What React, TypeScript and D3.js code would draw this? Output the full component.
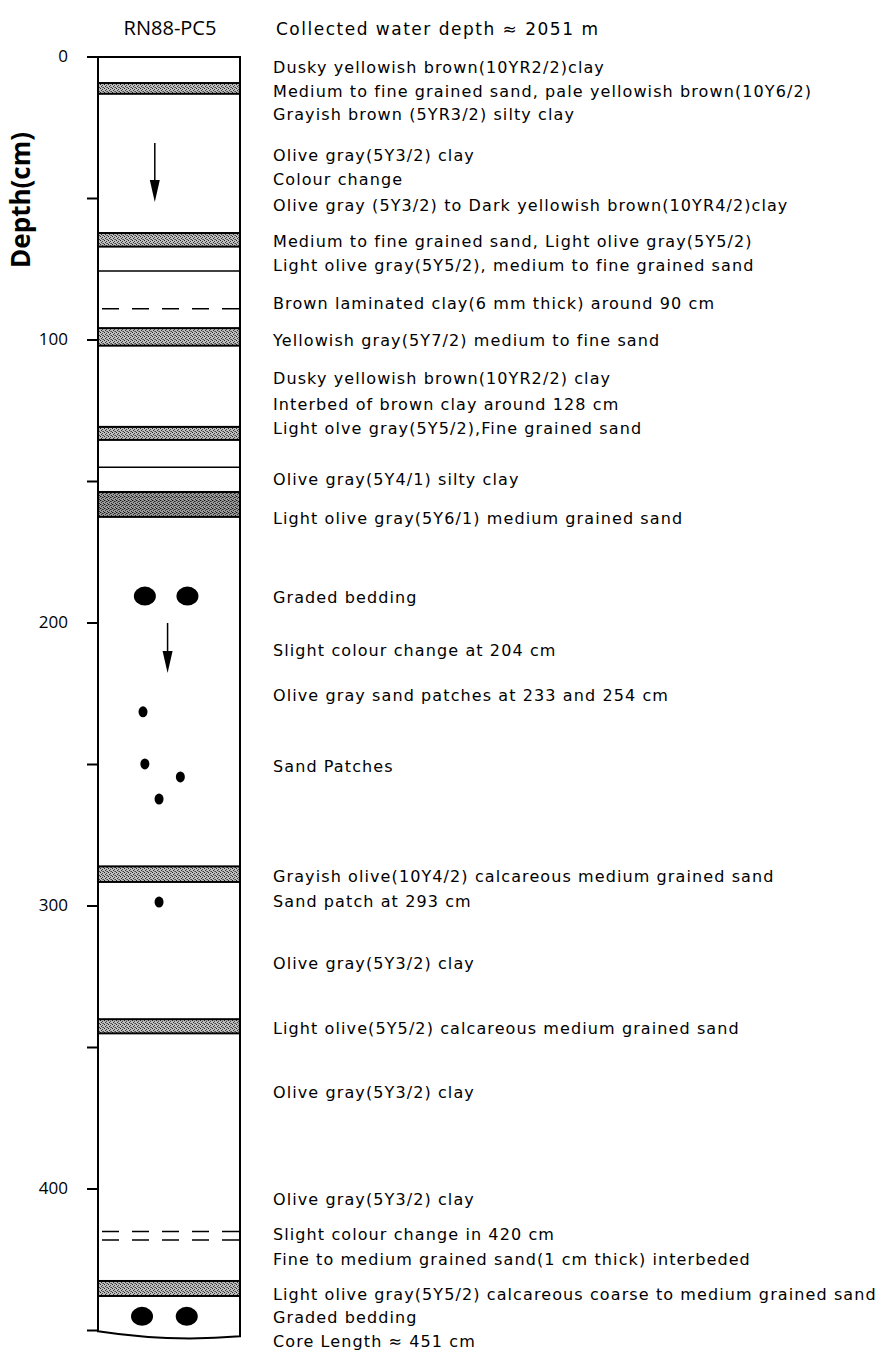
import * as d3 from 'd3';

// depth scale ticks (cm)
const depthTicks = [0, 50, 100, 150, 200, 250, 300, 350, 400, 450];
const tickLabels = ['0', '', '100', '', '200', '', '300', '', '400', ''];
const coreLength = 451;

// sand layers [top, bottom] in cm, dark flag for the coarser one
const sandTop = [9.2, 62.2, 95.8, 130.7, 153.7, 286, 340, 432.5];
const sandBottom = [13, 67, 102, 135.3, 162.5, 291.5, 345, 437.8];
const sandDark = [false, false, false, false, true, false, false, false];

// layer boundaries
const solidLines = [75.6, 145];
const dashedLines = [89, 415, 418];

// arrows: x position across core (0-1), from / to depth
const arrowX = [0.4, 0.49];
const arrowFrom = [30.4, 200];
const arrowTo = [51.2, 217.7];

// graded bedding (large) and sand patches (small)
const bigDotX = [0.33, 0.63, 0.31, 0.625];
const bigDotDepth = [190.5, 190.5, 445, 445];
const smallDotX = [0.317, 0.33, 0.58, 0.43, 0.43];
const smallDotDepth = [231.4, 249.8, 254.4, 262.2, 298.6];

// descriptions and depth (cm) they are written at
const descDepth = [4.2, 12.4, 20.8, 35.3, 43.8, 52.7, 65.7, 73.9, 87.6, 100.7, 114.1, 123.3, 131.8, 149.8, 163.3, 191.5, 210.2, 226.1, 250.9, 289.8, 298.6, 320.8, 343.5, 366.1, 403.9, 416.6, 425.1, 437.8, 445.9, 454.1];
const descText = [
  'Dusky yellowish brown(10YR2/2)clay',
  'Medium to fine grained sand, pale yellowish brown(10Y6/2)',
  'Grayish brown (5YR3/2) silty clay',
  'Olive gray(5Y3/2) clay',
  'Colour change',
  'Olive gray (5Y3/2) to Dark yellowish brown(10YR4/2)clay',
  'Medium to fine grained sand, Light olive gray(5Y5/2)',
  'Light olive gray(5Y5/2), medium to fine grained sand',
  'Brown laminated clay(6 mm thick) around 90 cm',
  'Yellowish gray(5Y7/2) medium to fine sand',
  'Dusky yellowish brown(10YR2/2) clay',
  'Interbed of brown clay around 128 cm',
  'Light olve gray(5Y5/2),Fine grained sand',
  'Olive gray(5Y4/1) silty clay',
  'Light olive gray(5Y6/1) medium grained sand',
  'Graded bedding',
  'Slight colour change at 204 cm',
  'Olive gray sand patches at 233 and 254 cm',
  'Sand Patches',
  'Grayish olive(10Y4/2) calcareous medium grained sand',
  'Sand patch at 293 cm',
  'Olive gray(5Y3/2) clay',
  'Light olive(5Y5/2) calcareous medium grained sand',
  'Olive gray(5Y3/2) clay',
  'Olive gray(5Y3/2) clay',
  'Slight colour change in 420 cm',
  'Fine to medium grained sand(1 cm thick) interbeded',
  'Light olive gray(5Y5/2) calcareous coarse to medium grained sand',
  'Graded bedding',
  'Core Length ≈ 451 cm',
];

const W = 879;
const H = 1354;
const font = "'DejaVu Sans', sans-serif";
const titleFont = "'Open Sans', 'DejaVu Sans', sans-serif";

export default function App() {
  const y = d3.scaleLinear().domain([0, coreLength]).range([57, 57 + coreLength * 2.83]);
  const x = d3.scaleLinear().domain([0, 1]).range([98, 240]);
  const x0 = x(0);
  const x1 = x(1);
  const yb = y(coreLength);

  const outline = d3.path();
  outline.moveTo(x0, y(0));
  outline.lineTo(x1, y(0));
  outline.lineTo(x1, yb + 3);
  outline.quadraticCurveTo((x0 + x1) / 2, yb + 9, x0, yb - 2);
  outline.closePath();

  return (
    <svg width={W} height={H} style={{ position: 'absolute', left: 0, top: 0, background: '#fff' }}>
      <defs>
        <pattern id="sand" width="4" height="4" patternUnits="userSpaceOnUse">
          <rect width="4" height="4" fill="#bdbdbd" />
          <rect x="0" y="0" width="1" height="1" fill="#222" />
          <rect x="2" y="1" width="1" height="1" fill="#444" />
          <rect x="1" y="2" width="1" height="1" fill="#333" />
          <rect x="3" y="3" width="1" height="1" fill="#444" />
          <rect x="2" y="3" width="1" height="1" fill="#777" />
        </pattern>
        <pattern id="sandDark" width="4" height="4" patternUnits="userSpaceOnUse">
          <rect width="4" height="4" fill="#9a9a9a" />
          <rect x="0" y="0" width="1" height="1" fill="#111" />
          <rect x="2" y="1" width="1" height="1" fill="#222" />
          <rect x="1" y="2" width="1" height="1" fill="#333" />
          <rect x="3" y="3" width="1" height="1" fill="#222" />
          <rect x="3" y="1" width="1" height="1" fill="#555" />
          <rect x="1" y="0" width="1" height="1" fill="#666" />
        </pattern>
      </defs>

      <text x={170} y={30} textAnchor="middle" dominantBaseline="middle" fontFamily={titleFont} fontSize={20} fill="#000">
        RN88-PC5
      </text>
      <text x={276} y={30} dominantBaseline="middle" fontFamily={font} fontSize={17} letterSpacing={1.5} fill="#000">
        Collected water depth ≈ 2051 m
      </text>

      <text
        transform={`translate(23,${y(50.5)}) rotate(-90)`}
        textAnchor="middle"
        dominantBaseline="middle"
        fontFamily={titleFont}
        fontSize={26}
        fontWeight="bold"
        fill="#000"
      >
        Depth(cm)
      </text>

      {/* sand layers */}
      {sandTop.map((t, i) => (
        <rect
          key={`s${i}`}
          x={x0}
          y={y(t)}
          width={x1 - x0}
          height={y(sandBottom[i]) - y(t)}
          fill={sandDark[i] ? 'url(#sandDark)' : 'url(#sand)'}
          stroke="#000"
          strokeWidth={2}
        />
      ))}

      {solidLines.map((d, i) => (
        <line key={`l${i}`} x1={x0} x2={x1} y1={y(d)} y2={y(d)} stroke="#000" strokeWidth={1.5} />
      ))}
      {dashedLines.map((d, i) => (
        <line key={`d${i}`} x1={x0 + 4} x2={x1} y1={y(d)} y2={y(d)} stroke="#000" strokeWidth={1.5} strokeDasharray="17 13" />
      ))}

      {/* core outline */}
      <path d={outline.toString()} fill="none" stroke="#000" strokeWidth={2} />

      {/* ticks */}
      {depthTicks.map((t, i) => (
        <g key={`t${i}`}>
          <line x1={x0 - 11} x2={x0} y1={y(t)} y2={y(t)} stroke="#000" strokeWidth={2} />
          {tickLabels[i] && (
            <text x={68} y={y(t)} textAnchor="end" dominantBaseline="middle" fontFamily={titleFont} fontSize={17} fill="#000">
              {tickLabels[i]}
            </text>
          )}
        </g>
      ))}

      {/* arrows */}
      {arrowX.map((a, i) => {
        const ax = x(a);
        const ya = y(arrowFrom[i]);
        const yz = y(arrowTo[i]);
        return (
          <g key={`a${i}`}>
            <line x1={ax} x2={ax} y1={ya} y2={yz - 16} stroke="#000" strokeWidth={1.5} />
            <path d={`M${ax - 5},${yz - 22}L${ax + 5},${yz - 22}L${ax},${yz}Z`} fill="#000" />
          </g>
        );
      })}

      {bigDotX.map((a, i) => (
        <ellipse key={`b${i}`} cx={x(a)} cy={y(bigDotDepth[i])} rx={11} ry={9.5} fill="#000" />
      ))}
      {smallDotX.map((a, i) => (
        <ellipse key={`p${i}`} cx={x(a)} cy={y(smallDotDepth[i])} rx={4.5} ry={5.5} fill="#000" />
      ))}

      {/* descriptions */}
      {descText.map((t, i) => (
        <text key={`x${i}`} x={273} y={y(descDepth[i])} dominantBaseline="middle" fontFamily={font} fontSize={16} letterSpacing={1.1} fill="#000">
          {t}
        </text>
      ))}
    </svg>
  );
}
